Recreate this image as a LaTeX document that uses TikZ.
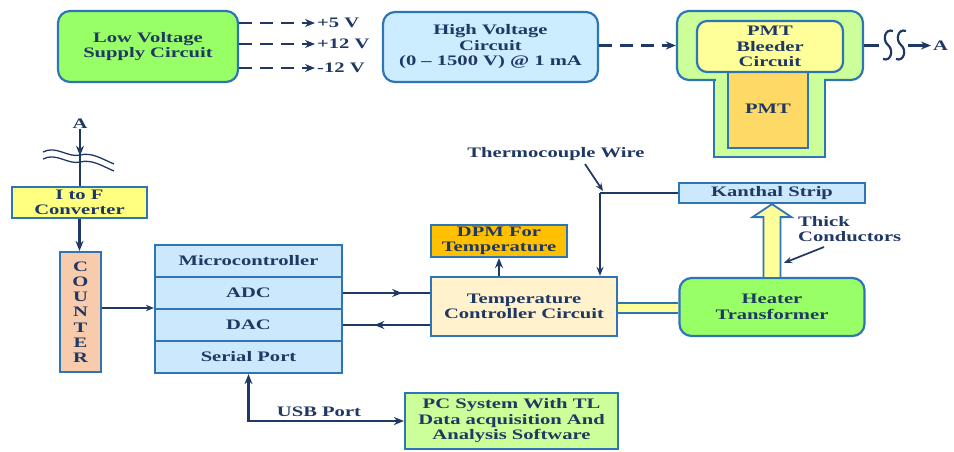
\documentclass[tikz,border=0pt]{standalone}
\usepackage{fontspec}
\setmainfont{Liberation Serif}[FakeStretch=1.42]
\usetikzlibrary{arrows.meta,decorations.markings,calc}

\definecolor{navy}{RGB}{31,56,100}
\definecolor{bordblue}{RGB}{46,117,182}
\definecolor{lvgreen}{RGB}{153,255,102}
\definecolor{hvblue}{RGB}{204,236,255}
\definecolor{hgreen}{RGB}{204,255,153}
\definecolor{blyellow}{RGB}{255,255,153}
\definecolor{pmtorange}{RGB}{255,217,102}
\definecolor{itofyellow}{RGB}{255,255,128}
\definecolor{peach}{RGB}{248,203,173}
\definecolor{mcblue}{RGB}{204,232,252}
\definecolor{dpmorange}{RGB}{255,192,0}
\definecolor{cream}{RGB}{255,242,204}

\newcommand\diagfont{\bfseries\fontsize{14.5}{15.5}\selectfont}

\tikzset{
  box/.style={draw=bordblue, line width=2.2pt, inner sep=0pt, align=center,
    font=\diagfont, text=navy},
  rbox/.style={box, rounded corners=12pt},
  lbl/.style={inner xsep=2pt, inner ysep=0pt, font=\diagfont, text=navy, align=center},
  tip/.style={-{Stealth[length=10pt,width=8pt]}},
  wire/.style={draw=navy, line width=2.6pt},
  thinwire/.style={draw=navy, line width=1.7pt},
  link/.style={wire, tip},
  thinlink/.style={thinwire, -{Stealth[length=8pt,width=6.5pt]}},
  dlink/.style={wire, tip, dash pattern=on 13pt off 8pt},
  midarrow/.style={postaction={decorate}, decoration={markings,
    mark=at position #1 with {\arrow{Stealth[length=10pt,width=8pt]}}}},
}

\begin{document}
\begin{tikzpicture}[x=1pt, y=-1pt]
\useasboundingbox (0,0) rectangle (954,451);

% ---------- supplies ----------
\node[rbox, fill=lvgreen, minimum width=180pt, minimum height=71pt] (lv) at (148,46.5) {Low Voltage\\Supply Circuit};
\node[lbl, anchor=west] (p5)  at (315,23) {+5 V};
\node[lbl, anchor=west] (p12) at (315,44) {+12 V};
\node[lbl, anchor=west] (m12) at (315,68) {-12 V};
\draw[dlink] (lv.east |- p5)  -- (p5.west);
\draw[dlink] (lv.east |- p12) -- (p12.west);
\draw[dlink] (lv.east |- m12) -- (m12.west);

\node[rbox, fill=hvblue, minimum width=215pt, minimum height=70pt] (hv) at (490.5,47) {High Voltage\\Circuit\\(0 – 1500 V) @ 1 mA};

% ---------- PMT housing ----------
\node[box, fill=hgreen, minimum width=111pt, minimum height=87pt] (hbase) at (769.5,113.5) {};
\node[rbox, fill=hgreen, minimum width=186pt, minimum height=69pt] (housing) at (770,45.5) {};
\fill[hgreen] (715.5,74) rectangle (823.5,86);
\node[box, fill=pmtorange, minimum width=80pt, minimum height=78pt] (pmt) at (768,109) {PMT};
\node[rbox, rounded corners=10pt, fill=blyellow, minimum width=146pt, minimum height=51pt] (bleeder) at (770,46.5) {PMT\\Bleeder\\Circuit};

\draw[dlink] (hv.east |- housing.west) -- (housing.west);

% output line with break symbol
\coordinate (brk1) at (879,45.5);
\coordinate (brk2) at (908,45.5);
\node[lbl, anchor=west] (aright) at (931,45.5) {A};
\draw[wire] (housing.east) -- (brk1);
\foreach \cx in {888,901}
  \draw[navy, line width=2.2pt] (\cx+5,31) .. controls (\cx-3,28) and (\cx-6,40) .. (\cx,45)
        .. controls (\cx+6,50) and (\cx+3,62) .. (\cx-5,59);
\draw[link] (brk2) -- (aright.west);

% ---------- counting chain ----------
\node[lbl] (aleft) at (80,124) {A};
\node[box, fill=itofyellow, minimum width=135pt, minimum height=31pt] (itof) at (79.5,202.5) {I to F\\Converter};
\draw[navy, line width=2.6pt, midarrow=0.47] (aleft.south) -- (aleft.south |- itof.north);
\foreach \dy in {0,7}
  \draw[navy, line width=1.3pt] (43,152+\dy) .. controls (56,145+\dy) and (68,158+\dy) .. (80,155+\dy)
        .. controls (92,152+\dy) and (102,159+\dy) .. (114,164+\dy);

\node[box, fill=peach, minimum width=41pt, minimum height=120pt,
      font=\bfseries\fontsize{14.5}{15.2}\selectfont] (counter) at (80.5,312) {C\\O\\U\\N\\T\\E\\R};
\draw[link] (itof.south) -- (itof.south |- counter.north);

\node[box, fill=mcblue, minimum width=187pt, minimum height=32pt] (mc)     at (248.5,261) {Microcontroller};
\node[box, fill=mcblue, minimum width=187pt, minimum height=32pt] (adc)    at (248.5,293) {ADC};
\node[box, fill=mcblue, minimum width=187pt, minimum height=32pt] (dac)    at (248.5,325) {DAC};
\node[box, fill=mcblue, minimum width=187pt, minimum height=32pt] (serial) at (248.5,357) {Serial Port};

\coordinate (cnt) at ([yshift=4pt]counter.east);
\draw[thinlink] (cnt) -- (cnt -| adc.west);

% ---------- temperature control ----------
\node[box, fill=cream, minimum width=186pt, minimum height=59pt] (temp) at (524,306.5) {Temperature\\Controller Circuit};
\node[box, fill=dpmorange, minimum width=136pt, minimum height=32pt] (dpm) at (499,241) {DPM For\\Temperature};
\draw[link] (dpm.south |- temp.north) -- (dpm.south);

\draw[wire, midarrow=0.68] (adc.east) -- (adc.east -| temp.west);
\draw[wire, midarrow=0.64] (dac.east -| temp.west) -- (dac.east);

\node[box, fill=mcblue, minimum width=186pt, minimum height=20pt] (kanthal) at (772,193) {Kanthal Strip};
\node[rbox, fill=lvgreen, minimum width=185pt, minimum height=58pt] (heater) at (772,307) {Heater\\Transformer};

% thick conductors: bar to heater and hollow arrow to the strip
\coordinate (bar) at ([yshift=-1.5pt]temp.east);
\fill[blyellow] ($(bar)+(0,-5)$) rectangle ($(bar -| heater.west)+(0,5)$);
\draw[bordblue, line width=1.8pt] ($(bar)+(0,-5)$) -- ($(bar -| heater.west)+(0,-5)$);
\draw[bordblue, line width=1.8pt] ($(bar)+(0,5)$) -- ($(bar -| heater.west)+(0,5)$);
\draw[bordblue, fill=blyellow, line width=1.8pt]
  ($(heater.north)+(-8.5,0)$) -- ($(kanthal.south)+(-8.5,13)$) -- ($(kanthal.south)+(-19.5,13)$)
  -- (kanthal.south) -- ($(kanthal.south)+(19.5,13)$) -- ($(kanthal.south)+(8.5,13)$)
  -- ($(heater.north)+(8.5,0)$);

\node[lbl, anchor=west, align=left] (thick) at (796,229) {Thick\\Conductors};
\coordinate (tkp) at (824,247);
\coordinate (tke) at ($(heater.north)+(12,-14)$);
\draw[thinlink] (tkp) -- (tke);

% thermocouple wire
\node[lbl] (tclbl) at (556,154) {Thermocouple Wire};
\coordinate (tcj) at (600,193);
\coordinate (tcp) at (585,164);
\draw[thinwire, line width=2pt] (kanthal.west) -- (tcj);
\draw[thinwire, line width=2pt, -{Stealth[length=9pt,width=7pt]}] (tcj) -- (tcj |- temp.north);
\draw[thinlink] (tcp) -- ($(tcj)+(3,-2)$);

% ---------- PC link ----------
\node[box, fill=hgreen, minimum width=213pt, minimum height=56pt] (pc) at (511.5,421) {PC System With TL\\Data acquisition And\\Analysis Software};
\node[lbl] (usb) at (319,412) {USB Port};
\draw[wire, {Stealth[length=10pt,width=8pt]}-{Stealth[length=10pt,width=8pt]}] (serial.south) |- (pc.west);

\end{tikzpicture}
\end{document}
